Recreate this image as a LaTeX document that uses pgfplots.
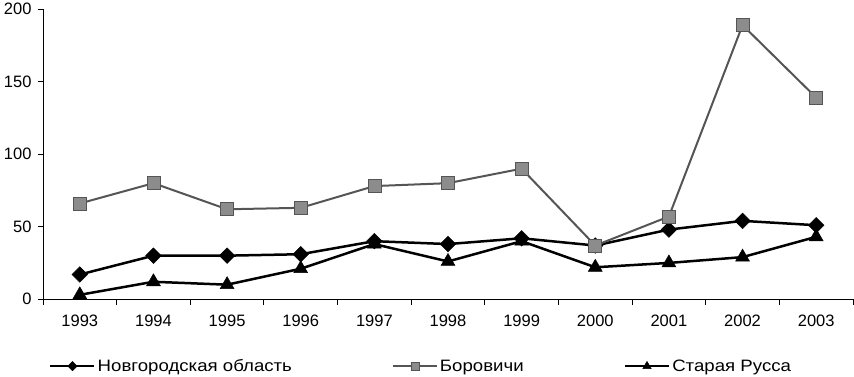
\documentclass[border=0pt]{standalone}
\usepackage{pgfplots}
\pgfplotsset{compat=1.18}
\usepackage{fontspec}
\setmainfont{Liberation Sans}
\newfontfamily\legfont[FakeStretch=1.13]{Liberation Sans}
\definecolor{sqfill}{HTML}{8C8C8C}
\definecolor{sqline}{HTML}{555555}
\begin{document}
\begin{tikzpicture}[x=1pt,y=1pt]
\begin{axis}[
  at={(43pt,77pt)}, anchor=south west,
  width=810pt, height=290pt, scale only axis,
  xmin=-0.5, xmax=10.5, ymin=0, ymax=200,
  axis lines=left, axis line style={-, line width=1pt},
  xtick={0,...,10},
  xticklabels={1993,1994,1995,1996,1997,1998,1999,2000,2001,2002,2003},
  minor xtick={-0.5,0.5,...,10.5},
  major x tick style={draw=none},
  ytick={0,50,100,150,200},
  tick align=outside, major tick length=5pt, minor tick length=6pt,
  tick style={line width=1pt, black},
  every tick label/.append style={font=\fontsize{16.5}{19}\selectfont},
  xticklabel style={yshift=-7pt},
  yticklabel style={xshift=-3pt},
  /pgf/number format/assume math mode=true,
  clip=false,
  legend columns=3,
  legend style={draw=none, fill=none, at={(0.0074,-0.231)}, anchor=west,
    font=\legfont\fontsize{16.5}{19}\selectfont, inner sep=0pt,
    /tikz/every even column/.append style={column sep=98pt}},
  legend cell align=left,
  legend image code/.code={\draw[mark repeat=2,mark phase=2,/tikz/every mark/.append style={scale=0.6}] plot coordinates {(0pt,0pt) (22pt,0pt) (44pt,0pt)};},
]
\addplot[black, line width=2.5pt, mark=square*, mark size=5.5pt, mark options={rotate=45, fill=black, line width=0.5pt}]
coordinates {(0,17)(1,30)(2,30)(3,31)(4,40)(5,38)(6,42)(7,37)(8,48)(9,54)(10,51)};
\addlegendentry{Новгородская область}
\addplot[sqline, line width=2pt, mark=square*, mark size=6.5pt, mark options={fill=sqfill, draw=sqline, line width=0.6pt}]
coordinates {(0,66)(1,80)(2,62)(3,63)(4,78)(5,80)(6,90)(7,37)(8,57)(9,189)(10,139)};
\addlegendentry{Боровичи}
\addplot[black, line width=2.5pt, mark=triangle*, mark size=8pt, mark options={fill=black, line width=0.5pt}]
coordinates {(0,3)(1,12)(2,10)(3,21)(4,38)(5,26)(6,40)(7,22)(8,25)(9,29)(10,43)};
\addlegendentry{Старая Русса}
\end{axis}
\path (0,0) rectangle (854pt,375pt);
\end{tikzpicture}
\end{document}
